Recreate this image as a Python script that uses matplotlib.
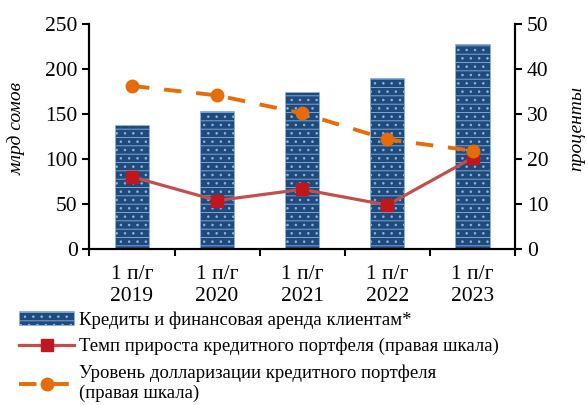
import numpy as np
import matplotlib
matplotlib.use('Agg')
import matplotlib.pyplot as plt
from matplotlib.legend_handler import HandlerPatch
import matplotlib.patches as mpatches

plt.rcParams['font.family'] = ['Liberation Serif', 'DejaVu Serif']
plt.rcParams['hatch.linewidth'] = 0.6

# data
periods = ['1 п/г\n2019', '1 п/г\n2020', '1 п/г\n2021', '1 п/г\n2022', '1 п/г\n2023']
credits = [138, 153, 174, 190, 228]          # млрд сомов
growth_rate = [16.0, 10.7, 13.2, 9.7, 20.2]  # %
dollarization = [36.2, 34.1, 30.1, 24.3, 21.8]  # %

bar_label = 'Кредиты и финансовая аренда клиентам*'
growth_label = 'Темп прироста кредитного портфеля (правая шкала)'
dollar_label = 'Уровень долларизации кредитного портфеля\n(правая шкала)'


def thin_patch(legend, orig_handle, xdescent, ydescent, width, height, fontsize):
    # legend swatch for the bars is a thin strip, like in the original
    h = height * 0.5
    return mpatches.Rectangle((-xdescent, -ydescent + (height - h) / 2), width, h)


fig = plt.figure(figsize=(5.88, 4.05), dpi=100)
ax = fig.add_axes([0.152, 0.386, 0.724, 0.555])
ax2 = ax.twinx()

x = np.arange(len(periods))
bars = ax.bar(x, credits, width=0.4, color='#1F4A7C', edgecolor='#8DB3E2',
              linewidth=0.5, hatch='--..', label=bar_label)

l1, = ax2.plot(x, growth_rate, color='#C0504D', lw=2.3, marker='s', ms=8.5,
               mfc='#C0171F', mec='#C0171F', label=growth_label)
l2, = ax2.plot(x, dollarization, color='#E46C0A', lw=2.8, ls=(0, (4.5, 3.8)),
               marker='o', ms=9, mfc='#E46C0A', mec='#E46C0A', label=dollar_label)

ax.set_xlim(-0.5, len(periods) - 0.5)
ax.set_ylim(0, 250)
ax2.set_ylim(0, 50)
ax.set_yticks(np.arange(0, 251, 50))
ax2.set_yticks(np.arange(0, 51, 10))

ax.set_xticks(x)
ax.set_xticklabels(periods)
ax.set_xticks(np.arange(-0.5, len(periods), 1), minor=True)
ax.tick_params(axis='x', which='major', length=0, pad=12)
ax.tick_params(axis='x', which='minor', length=5, width=1.5, direction='out')
ax.tick_params(axis='y', length=5, width=1.5, direction='out')
ax2.tick_params(axis='y', length=5, width=1.5, direction='out')
for a in (ax, ax2):
    a.tick_params(labelsize=15.5)
    a.spines['top'].set_visible(False)
    for s in ('left', 'right', 'bottom'):
        a.spines[s].set_linewidth(1.5)

fig.text(17 / 588, 1 - 128 / 405, 'млрд сомов', rotation=90, fontsize=14,
         style='italic', ha='center', va='center')
fig.text(577 / 588, 1 - 128 / 405, 'проценты', rotation=90, fontsize=14,
         style='italic', ha='center', va='center')

fig.legend([bars, l1, l2], [bar_label, growth_label, dollar_label],
           loc='upper left', bbox_to_anchor=(0.033, 0.232), frameon=False,
           fontsize=13.5, handlelength=2.9, handletextpad=0.3, labelspacing=0.5,
           borderaxespad=0, borderpad=0,
           handler_map={type(bars.patches[0]): HandlerPatch(patch_func=thin_patch)})

fig.savefig('out.png', dpi=100)
